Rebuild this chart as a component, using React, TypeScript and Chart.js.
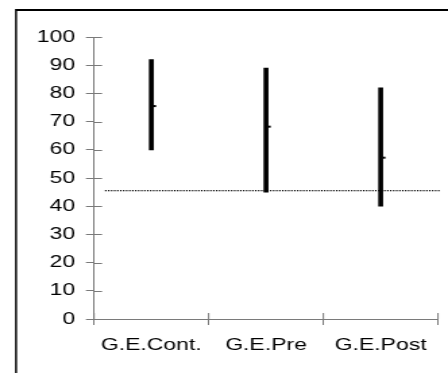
import React, { useEffect, useRef } from "react";
import { Chart, registerables } from "chart.js";

Chart.register(...registerables);

// ---- data ----
const categories = ["G.E.Cont.", "G.E.Pre", "G.E.Post"];
const lows = [60, 45, 40];
const highs = [92, 89, 82];
const means = [75.5, 68.2, 57.2];
const referenceValue = 45.7;
const yMin = 0;
const yMax = 100;
const yStep = 10;

// ---- layout ----
const PAGE_W = 448;
const PAGE_H = 373;
const STRETCH = 1.35;
const CW = Math.round(PAGE_W / STRETCH);
const SX = PAGE_W / CW;
const FONT = '"Liberation Sans", Arial, Helvetica, sans-serif';
const AXIS_COLOR = "#7a7a7a";

const decor = {
  id: "decor",
  beforeDatasetsDraw(chart: any) {
    const ctx = chart.ctx;
    const { left, right } = chart.chartArea;
    const y = chart.scales.y;
    const py = Math.round(y.getPixelForValue(referenceValue));
    ctx.save();
    ctx.fillStyle = "#000";
    const step = 3 / SX;
    for (let px = left + 11 / SX; px < right; px += step) {
      ctx.fillRect(px, py, 1.1, 1.3);
    }
    ctx.restore();
  },
  afterDraw(chart: any) {
    const ctx = chart.ctx;
    const { left, bottom } = chart.chartArea;
    const x = chart.scales.x;
    const y = chart.scales.y;
    ctx.save();
    // inner y ticks
    ctx.strokeStyle = AXIS_COLOR;
    ctx.lineWidth = 1;
    y.ticks.forEach((_t: any, i: number) => {
      const py = Math.round(y.getPixelForTick(i)) + 0.5;
      ctx.beginPath();
      ctx.moveTo(left, py);
      ctx.lineTo(left + 6, py);
      ctx.stroke();
    });
    // inner x ticks at boundaries
    for (let i = 0; i <= categories.length; i++) {
      const px = x.getPixelForValue(i - 0.5);
      ctx.beginPath();
      ctx.moveTo(px, bottom - 6);
      ctx.lineTo(px, bottom);
      ctx.stroke();
    }
    // mean stubs
    const meta = chart.getDatasetMeta(0);
    ctx.fillStyle = "#000";
    meta.data.forEach((bar: any, i: number) => {
      const py = y.getPixelForValue(means[i]);
      const half = bar.width / 2;
      ctx.fillRect(bar.x + half, py - 1, 2, 2);
    });
    // frame
    ctx.strokeStyle = "#000";
    ctx.lineWidth = 2;
    const fx = 16 / SX;
    ctx.beginPath();
    ctx.moveTo(fx, 10);
    ctx.lineTo(chart.width, 10);
    ctx.stroke();
    ctx.lineWidth = 1.5;
    ctx.beginPath();
    ctx.moveTo(fx, 9);
    ctx.lineTo(fx, chart.height);
    ctx.stroke();
    ctx.restore();
  },
};

export default function App() {
  const ref = useRef<HTMLCanvasElement | null>(null);
  useEffect(() => {
    const canvas = ref.current;
    if (!canvas) return;
    const chart = new Chart(canvas, {
      type: "bar",
      data: {
        labels: categories,
        datasets: [
          {
            data: lows.map((l, i) => [l, highs[i]]) as any,
            backgroundColor: "#000",
            borderWidth: 0,
            barThickness: 3,
          },
        ],
      },
      options: {
        responsive: false,
        animation: false,
        devicePixelRatio: 1,
        layout: { padding: { top: 37, right: CW - 438 / SX, left: 0, bottom: 0 } },
        plugins: { legend: { display: false }, tooltip: { enabled: false } },
        scales: {
          x: {
            type: "category",
            offset: true,
            grid: {
              offset: true,
              drawOnChartArea: false,
              drawTicks: true,
              tickLength: 6,
              color: AXIS_COLOR,
            },
            border: { color: AXIS_COLOR },
            ticks: {
              color: "#000",
              font: { family: FONT, size: 17 },
              padding: 10,
              maxRotation: 0,
            },
            afterFit(s: any) {
              s.height = PAGE_H - 319;
            },
          },
          y: {
            min: yMin,
            max: yMax,
            grid: {
              drawOnChartArea: false,
              drawTicks: true,
              tickLength: 6,
              color: AXIS_COLOR,
            },
            border: { color: AXIS_COLOR },
            ticks: {
              stepSize: yStep,
              color: "#000",
              font: { family: FONT, size: 17 },
              padding: 8,
            },
            afterFit(s: any) {
              s.width = 94 / SX;
            },
          },
        },
      },
      plugins: [decor],
    });
    return () => chart.destroy();
  }, []);
  return (
    <div style={{ position: "fixed", left: 0, top: 0, width: PAGE_W, height: PAGE_H }}>
      <canvas
        ref={ref}
        width={CW}
        height={PAGE_H}
        style={{ width: PAGE_W + "px", height: PAGE_H + "px", display: "block" }}
      />
    </div>
  );
}
